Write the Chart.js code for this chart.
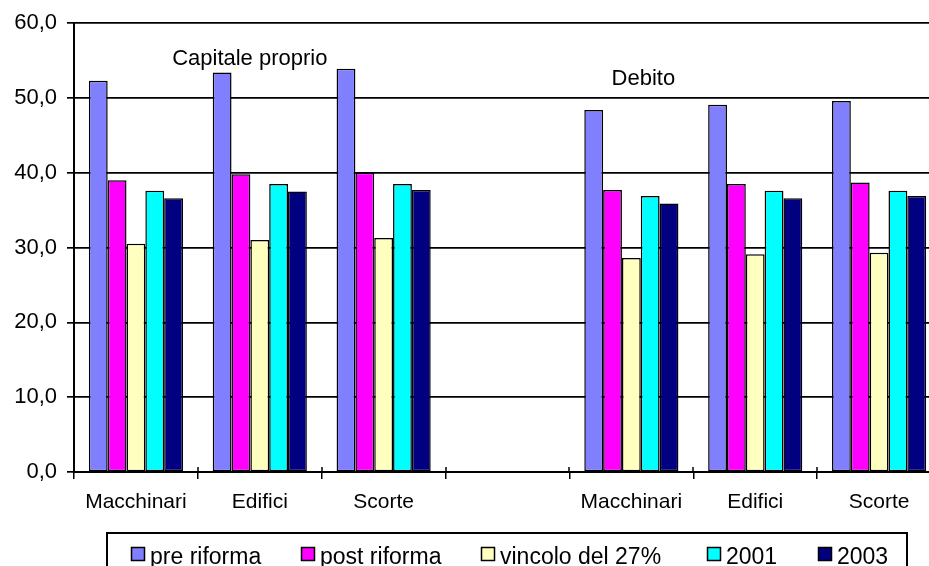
<!DOCTYPE html>
<html>
<head>
<meta charset="utf-8">
<script src="https://cdn.jsdelivr.net/npm/chart.js@4.4.1/dist/chart.umd.min.js"></script>
<style>
  html, body { margin: 0; padding: 0; background: #fff; overflow: hidden; }
  #wrap { width: 950px; height: 566px; }
</style>
</head>
<body>
<div id="wrap"><canvas id="myChart"></canvas></div>
<script>
"use strict";

// categories: two groups (Capitale proprio / Debito) with an empty slot between
let categories = ["Macchinari", "Edifici", "Scorte", "", "Macchinari", "Edifici", "Scorte"];

let preRiforma = [52.3, 53.4, 53.9, null, 48.4, 49.1, 49.6];
let postRiforma = [39.0, 39.8, 40.0, null, 37.7, 38.5, 38.7];
let vincolo27 = [30.5, 31.0, 31.3, null, 28.6, 29.1, 29.3];
let anno2001 = [37.6, 38.5, 38.5, null, 36.9, 37.6, 37.6];
let anno2003 = [36.6, 37.5, 37.7, null, 35.9, 36.6, 36.9];

let seriesNames = ["pre riforma", "post riforma", "vincolo del 27%", "2001", "2003"];
let yTicks = [0, 10, 20, 30, 40, 50, 60];

const FONT = "'Liberation Sans', Arial, sans-serif";

// group labels written inside the plot
const notes = [
  { text: "Capitale proprio", cat: 1, dx: -10, value: 54.4 },
  { text: "Debito", cat: 4, dx: 12, value: 51.8 },
];

// x of each legend swatch (Excel-like column layout)
const legendX = [131, 301, 481, 707, 818];

const notesPlugin = {
  id: "notes",
  afterDatasetsDraw(chart) {
    const ctx = chart.ctx;
    const xs = chart.scales.x;
    const ys = chart.scales.y;
    ctx.save();
    ctx.fillStyle = "#000";
    ctx.font = "22px " + FONT;
    ctx.textAlign = "center";
    ctx.textBaseline = "alphabetic";
    notes.forEach(function (n) {
      ctx.fillText(n.text, xs.getPixelForValue(n.cat) + n.dx, ys.getPixelForValue(n.value));
    });
    // small tick stubs crossing the x axis upwards
    const bottom = chart.chartArea.bottom;
    ctx.strokeStyle = "#000";
    ctx.lineWidth = 1.5;
    for (let i = 1; i < categories.length; i++) {
      let x = Math.round((xs.getPixelForValue(i - 1) + xs.getPixelForValue(i)) / 2);
      ctx.beginPath();
      ctx.moveTo(x, bottom - 5);
      ctx.lineTo(x, bottom);
      ctx.stroke();
    }
    ctx.restore();
  },
};

const boxLegendPlugin = {
  id: "boxLegend",
  afterDraw(chart) {
    const ctx = chart.ctx;
    ctx.save();
    ctx.strokeStyle = "#000";
    ctx.lineWidth = 2;
    ctx.strokeRect(107, 533, 800, 60);
    ctx.font = "23px " + FONT;
    ctx.textBaseline = "alphabetic";
    ctx.textAlign = "left";
    chart.data.datasets.forEach(function (ds, i) {
      let x = legendX[i];
      ctx.fillStyle = ds.backgroundColor;
      ctx.fillRect(x, 547, 14, 14);
      ctx.lineWidth = 1.5;
      ctx.strokeRect(x + 0.5, 547.5, 13, 13);
      ctx.fillStyle = "#000";
      ctx.fillText(ds.label, x + 19, 564);
    });
    ctx.restore();
  },
};

const colors = ["#8080FF", "#FF00FF", "#FFFFC0", "#00FFFF", "#000080"];
const values = [preRiforma, postRiforma, vincolo27, anno2001, anno2003];

const data = {
  labels: categories,
  datasets: seriesNames.map(function (name, i) {
    return {
      label: name,
      data: values[i],
      backgroundColor: colors[i],
      borderColor: "#000",
      borderWidth: 1.5,
      borderSkipped: false,
      categoryPercentage: 0.76,
      barPercentage: 1,
    };
  }),
};

const config = {
  type: "bar",
  data: data,
  options: {
    responsive: true,
    maintainAspectRatio: false,
    animation: false,
    devicePixelRatio: 1,
    layout: { padding: { top: 21, right: 9, left: 0, bottom: 0 } },
    plugins: {
      legend: { display: false },
      tooltip: { enabled: false },
    },
    scales: {
      x: {
        afterFit: function (scale) { scale.height = 94; },
        grid: {
          display: true,
          drawOnChartArea: false,
          drawTicks: true,
          tickLength: 7,
          color: "#000",
          lineWidth: 1.5,
          offset: true,
        },
        border: { display: true, color: "#000", width: 2 },
        ticks: {
          color: "#000",
          font: { family: FONT, size: 21 },
          padding: 11,
          maxRotation: 0,
          autoSkip: false,
        },
      },
      y: {
        min: 0,
        max: 60,
        afterFit: function (scale) { scale.width = 74; },
        afterBuildTicks: function (scale) {
          scale.ticks = yTicks.map(function (v) { return { value: v }; });
        },
        grid: {
          color: "#000",
          lineWidth: 1.7,
          drawTicks: true,
          tickLength: 7,
        },
        border: { display: true, color: "#000", width: 2 },
        ticks: {
          color: "#000",
          font: { family: FONT, size: 22 },
          padding: 10,
          callback: function (v) { return v.toFixed(1).replace(".", ","); },
        },
      },
    },
  },
  plugins: [notesPlugin, boxLegendPlugin],
};

const canvasChart = document.getElementById("myChart");
new Chart(canvasChart, config);
</script>
</body>
</html>
